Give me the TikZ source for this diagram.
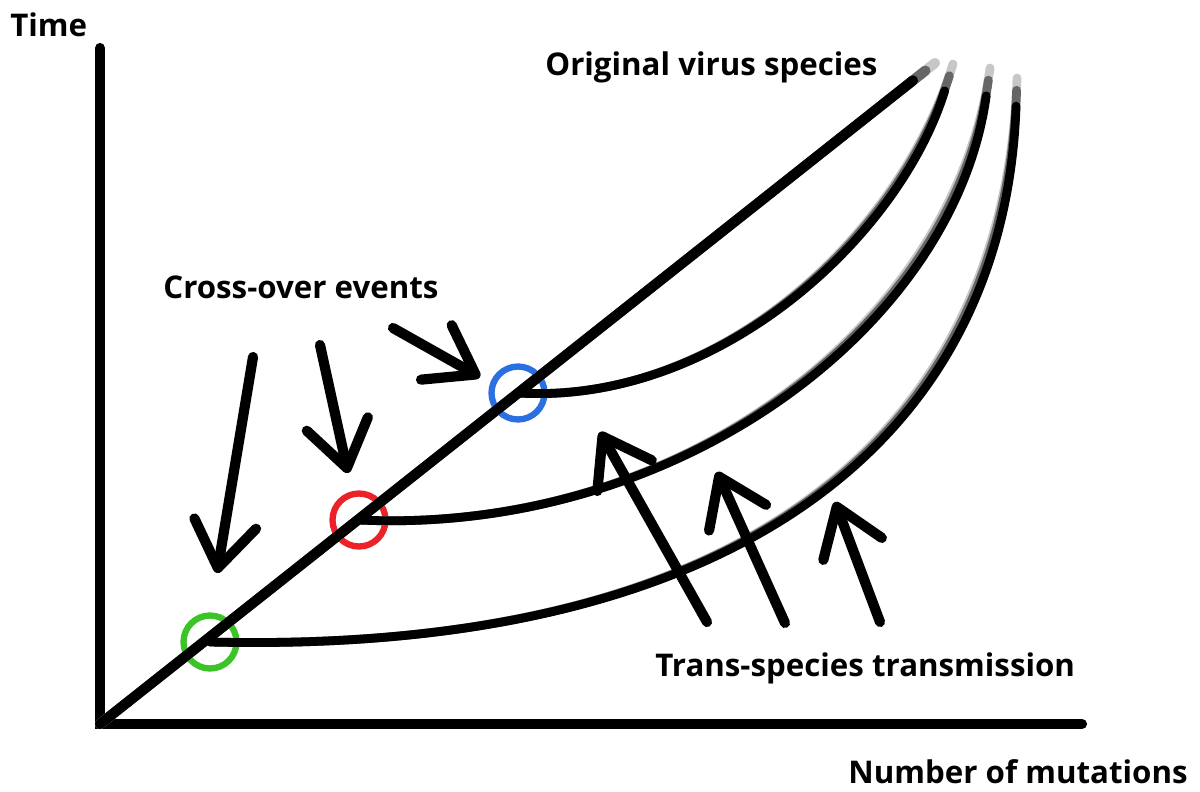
\documentclass[tikz,border=0pt]{standalone}
\usepackage{fontspec}
\setsansfont{Open Sans}
\usetikzlibrary{arrows.meta}
\definecolor{evgreen}{RGB}{60,195,40}
\definecolor{evred}{RGB}{236,34,40}
\definecolor{evblue}{RGB}{42,112,226}
\tikzset{
    axisline/.style={line width=5.8pt, line cap=round},
    branch/.style={line width=5pt, line cap=round},
    event/.style={circle, draw, line width=3.6pt, minimum size=1.06cm, inner sep=0pt},
    pointer/.style={line width=5.8pt, line cap=round, -{Straight Barb[length=0.9cm, width=1.25cm, round]}},
    lbl/.style={font=\sffamily\bfseries\fontsize{17.8}{21}\selectfont, inner sep=0pt}
}
\begin{document}
\begin{tikzpicture}[x=0.02cm, y=-0.02cm]
        \useasboundingbox(0,0)rectangle(1200,791);
        % axis
        \coordinate(O)at(100,724);
        \coordinate(t)at(1082,724);
        \coordinate(x)at(100,48);
        \coordinate(top)at(935,63);
        \node[lbl, anchor=base west](time)at(10,36){Time};
        \node[lbl, anchor=base east](mut)at(1188,783){Number of mutations};
        \path[draw, axisline](x)to(O)to(t);
        % cross-over events
        \node[event, draw=evgreen](g)at(210,642){};
        \node[event, draw=evred](r)at(359,520){};
        \node[event, draw=evblue](b)at(518,393){};
        % original species and branches, faded at the top
        \foreach \s/\c in {0/22, 7/60, 16/100}
        {
            \path[draw, axisline, black!\c, shorten >=\s pt](O)to(top);
            \path[draw, branch, black!\c, shorten >=\s pt](g.center)..controls(750,655)and(1005,430)..(1017,78);
            \path[draw, branch, black!\c, shorten >=\s pt](r.center)..controls(680,535)and(955,325)..(990,68);
            \path[draw, branch, black!\c, shorten >=\s pt](b.center)..controls(720,405)and(900,235)..(953,64);
        }
        \node[lbl, anchor=base west](orig)at(545,75){Original virus species};
        % arrows to the events
        \node[lbl, anchor=base west](cross)at(163,298){Cross-over events};
        \coordinate(c1s)at(253,357); \coordinate(c1e)at(217,573);
        \coordinate(c2s)at(320,345); \coordinate(c2e)at(348,473);
        \coordinate(c3s)at(393,328); \coordinate(c3e)at(480,377);
        \path[draw, pointer](c1s)to(c1e);
        \path[draw, pointer](c2s)to(c2e);
        \path[draw, pointer](c3s)to(c3e);
        % arrows of transmission
        \node[lbl, anchor=base west](trans)at(655,676){Trans-species transmission};
        \coordinate(t1s)at(707,622); \coordinate(t1e)at(600,432);
        \coordinate(t2s)at(785,623); \coordinate(t2e)at(717,472);
        \coordinate(t3s)at(880,622); \coordinate(t3e)at(835,502);
        \path[draw, pointer](t1s)to(t1e);
        \path[draw, pointer](t2s)to(t2e);
        \path[draw, pointer](t3s)to(t3e);
    \end{tikzpicture}
\end{document}
